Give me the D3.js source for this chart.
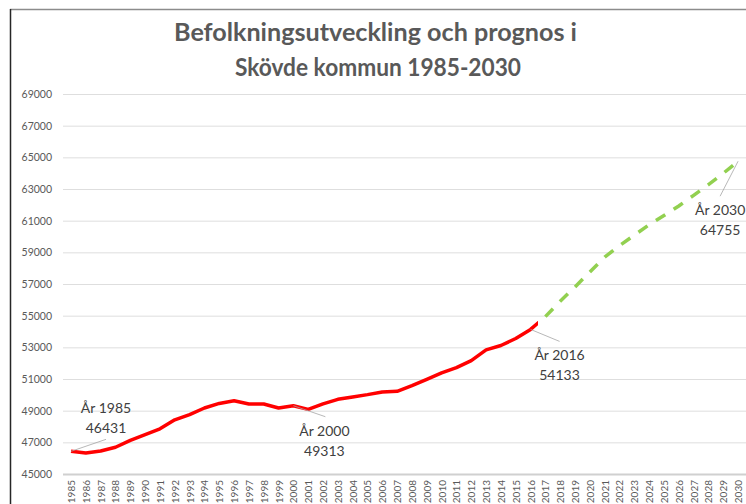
<!DOCTYPE html>
<html>
<head>
<meta charset="utf-8">
<script src="https://cdn.jsdelivr.net/npm/d3@7/dist/d3.min.js"></script>
<style>
  body { margin: 0; background: #fff; }
  text { font-family: Lato, "Open Sans", sans-serif; }
</style>
</head>
<body>
<svg id="chart" width="746" height="504"></svg>
<script>
// categories on the x axis
var years = [1985, 1986, 1987, 1988, 1989, 1990, 1991, 1992, 1993, 1994,
             1995, 1996, 1997, 1998, 1999, 2000, 2001, 2002, 2003, 2004,
             2005, 2006, 2007, 2008, 2009, 2010, 2011, 2012, 2013, 2014,
             2015, 2016, 2017, 2018, 2019, 2020, 2021, 2022, 2023, 2024,
             2025, 2026, 2027, 2028, 2029, 2030];

var actualYears = years.slice(0, 33);
var actualValues = [46431, 46330, 46456, 46690, 47125, 47480, 47856, 48420, 48750, 49170,
                    49456, 49625, 49420, 49420, 49170, 49313, 49082, 49424, 49715, 49867,
                    50013, 50184, 50222, 50582, 50981, 51386, 51722, 52165, 52842, 53114,
                    53557, 54133, 54940];

// forecast (green dashed)
var forecastYears = years.slice(32);
var forecastValues = [54940, 55916, 56814, 57762, 58697, 59424, 60088, 60740, 61322, 61929,
                      62600, 63280, 63990, 64755];

var yTicks = [45000, 47000, 49000, 51000, 53000, 55000, 57000, 59000, 61000, 63000,
              65000, 67000, 69000];

// data labels
var labelYears = [1985, 2000, 2016, 2030];
var labelValues = [46431, 49313, 54133, 64755];
// label layout: [text dx, text dy of first line, leader end dx, leader end dy]
var labelLayout = [[35, -38, 35, -12], [31, 30, 32, 11], [29, 31, 29, 12], [-18, 54, -18, 35]];

var svg = d3.select("#chart");

// chart frame
svg.append("line").attr("x1", 10).attr("x2", 746).attr("y1", 9.5).attr("y2", 9.5)
   .attr("stroke", "#8c8c8c").attr("stroke-width", 1.5);
svg.append("line").attr("x1", 10.5).attr("x2", 10.5).attr("y1", 9).attr("y2", 504)
   .attr("stroke", "#262626").attr("stroke-width", 1.5);

// title (widths matched to the original Calibri lines)
var title = svg.append("text").attr("text-anchor", "middle")
   .attr("fill", "#595959").attr("font-weight", "bold").attr("font-size", 24);
title.append("tspan").attr("x", 375.5).attr("y", 41)
   .attr("textLength", 403).attr("lengthAdjust", "spacingAndGlyphs")
   .text("Befolkningsutveckling och prognos i");
title.append("tspan").attr("x", 378).attr("y", 76)
   .attr("textLength", 286).attr("lengthAdjust", "spacingAndGlyphs")
   .text("Skövde kommun 1985-2030");

var x = d3.scalePoint().domain(years).range([63.6, 745.5]).padding(0.5);
var y = d3.scaleLinear().domain([45000, 69000]).range([474, 94]);

// gridlines
svg.append("g").selectAll("line").data(yTicks).enter().append("line")
   .attr("x1", 63).attr("x2", 746)
   .attr("y1", function(d) { return y(d) + 0.5; })
   .attr("y2", function(d) { return y(d) + 0.5; })
   .attr("stroke", function(d) { return d === 45000 ? "#d0d0d0" : "#dedede"; })
   .attr("stroke-width", function(d) { return d === 45000 ? 1.8 : 1; });

// y axis labels
var yAxis = d3.axisLeft(y).tickValues(yTicks).tickSize(0).tickPadding(0)
   .tickFormat(d3.format("d"));
var gy = svg.append("g").attr("transform", "translate(52,0)").call(yAxis);
gy.select(".domain").remove();
gy.selectAll("text").attr("fill", "#595959").attr("font-size", 10.5)
  .attr("font-family", "Lato, sans-serif");

// x axis labels, rotated
var xAxis = d3.axisBottom(x).tickSize(0).tickPadding(0);
var gx = svg.append("g").attr("transform", "translate(0,480)").call(xAxis);
gx.select(".domain").remove();
gx.selectAll("text")
  .attr("fill", "#595959").attr("font-size", 10).attr("font-family", "Lato, sans-serif")
  .attr("text-anchor", "end").attr("transform", "rotate(-90)")
  .attr("x", 0).attr("y", 0).attr("dx", 0).attr("dy", "0.35em");

// red line stops half way to 2017, where the forecast takes over
svg.append("clipPath").attr("id", "actualClip").append("rect")
   .attr("x", 0).attr("y", 0).attr("height", 504)
   .attr("width", x(2016) + x.step() / 2);

var line = d3.line()
   .x(function(d) { return x(d[0]); })
   .y(function(d) { return y(d[1]); });

svg.append("path")
   .datum(d3.zip(actualYears, actualValues))
   .attr("clip-path", "url(#actualClip)")
   .attr("d", line)
   .attr("fill", "none").attr("stroke", "#ff0000").attr("stroke-width", 3.5)
   .attr("stroke-linejoin", "round");

svg.append("path")
   .datum(d3.zip(forecastYears, forecastValues))
   .attr("d", line)
   .attr("fill", "none").attr("stroke", "#92d050").attr("stroke-width", 3.5)
   .attr("stroke-dasharray", "11,10").attr("stroke-linejoin", "round");

// data labels with leader lines
var labels = svg.append("g").selectAll("g").data(d3.zip(labelYears, labelValues, labelLayout))
   .enter().append("g")
   .attr("transform", function(d) { return "translate(" + x(d[0]) + "," + y(d[1]) + ")"; });

labels.append("line")
   .attr("x1", 0).attr("y1", 0)
   .attr("x2", function(d) { return d[2][2]; })
   .attr("y2", function(d) { return d[2][3]; })
   .attr("stroke", "#a6a6a6").attr("stroke-width", 0.8);

var lt = labels.append("text").attr("text-anchor", "middle")
   .attr("fill", "#404040").attr("font-size", 14);
lt.append("tspan")
  .attr("x", function(d) { return d[2][0]; })
  .attr("y", function(d) { return d[2][1]; })
  .text(function(d) { return "År " + d[0]; });
lt.append("tspan")
  .attr("x", function(d) { return d[2][0]; })
  .attr("y", function(d) { return d[2][1] + 20; })
  .text(function(d) { return d[1]; });
</script>
</body>
</html>
